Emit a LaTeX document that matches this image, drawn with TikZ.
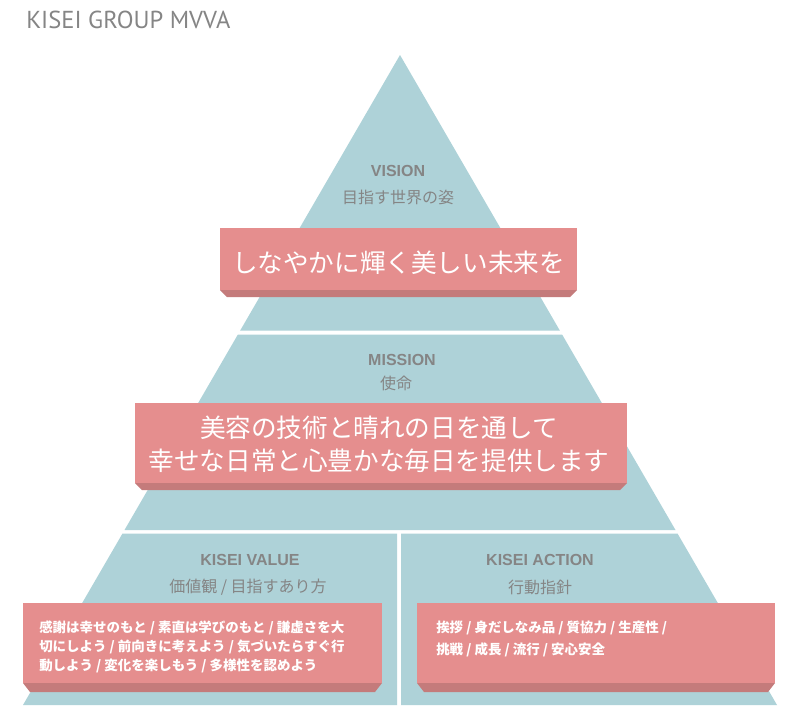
\documentclass[tikz,border=0pt]{standalone}
\usepackage{fontspec}
\setmainfont{Liberation Sans}
\newfontfamily\jp{Noto Sans CJK JP}
\newfontfamily\ttlfont{PT Sans}
\definecolor{tealbg}{HTML}{AED2D8}
\definecolor{boxred}{HTML}{E58E8E}
\definecolor{bevelred}{HTML}{C47B7B}
\definecolor{lblgray}{HTML}{858585}
\definecolor{ttlgray}{HTML}{858585}
\tikzset{
  tier/.style={fill=tealbg},
  redface/.style={fill=boxred},
  redbevel/.style={fill=bevelred},
  enlbl/.style={text=lblgray, font=\bfseries\fontsize{12}{14}\selectfont, inner sep=0pt},
  jplbl/.style={text=lblgray, font=\jp\fontsize{12}{14}\selectfont, inner sep=0pt},
  bigtxt/.style={text=white, font=\jp\fontsize{19.2}{25}\selectfont, inner sep=0pt, align=center},
  smalltxt/.style={text=white, font=\jp\bfseries\fontsize{10.1}{14.5}\selectfont, inner sep=0pt, align=left, anchor=west},
}
\begin{document}
\begin{tikzpicture}[x=0.75pt,y=-0.75pt]
\useasboundingbox (0,0) rectangle (795,715);
\fill[white] (0,0) rectangle (795,715);

% title
\node[anchor=west, inner sep=0pt, text=ttlgray, font=\ttlfont\fontsize{18.4}{22}\selectfont] (title) at (26,20) {KISEI GROUP MVVA};

% pyramid tiers
\fill[tier] (400,55) -- (559.8,330.5) -- (240.2,330.5) -- cycle;
\fill[tier] (237.9,334.5) -- (562.1,334.5) -- (675.5,530) -- (124.5,530) -- cycle;
\fill[tier] (122.5,533.5) -- (397,533.5) -- (397,705) -- (23,705) -- cycle;
\fill[tier] (401,533.5) -- (677.5,533.5) -- (777,705) -- (401,705) -- cycle;

% vision box
\fill[redface] (220,228) rectangle (577,290);
\fill[redbevel] (220,290) -- (577,290) -- (570,297) -- (227,297) -- cycle;
% mission box
\fill[redface] (135,403) rectangle (627,483);
\fill[redbevel] (135,483) -- (627,483) -- (620,490) -- (142,490) -- cycle;
% value box
\fill[redface] (23,603) rectangle (382,683);
\fill[redbevel] (23,683) -- (382,683) -- (375,692) -- (30,692) -- cycle;
% action box
\fill[redface] (417,603) rectangle (775,683);
\fill[redbevel] (417,683) -- (775,683) -- (768,692) -- (424,692) -- cycle;

% labels
\node[enlbl] (vision) at (398,171) {VISION};
\node[jplbl] (visionjp) at (398,197) {目指す世界の姿};
\node[enlbl] (mission) at (402,360) {MISSION};
\node[jplbl] (missionjp) at (396,383) {使命};
\node[enlbl] (value) at (250,560) {KISEI VALUE};
\node[jplbl] (valuejp) at (248,587) {価値観 / 目指すあり方};
\node[enlbl] (action) at (540,560) {KISEI ACTION};
\node[jplbl] (actionjp) at (540,587) {行動指針};

% box texts
\node[bigtxt] (visiontxt) at (398.5,263) {しなやかに輝く美しい未来を};
\node[bigtxt] (missiontxt) at (379,444.5) {美容の技術と晴れの日を通して\\幸せな日常と心豊かな毎日を提供します};
\node[smalltxt] (valuetxt) at (39,647) {感謝は幸せのもと / 素直は学びのもと / 謙虚さを大\\切にしよう / 前向きに考えよう / 気づいたらすぐ行\\動しよう / 変化を楽しもう / 多様性を認めよう};
\node[smalltxt, font=\jp\bfseries\fontsize{10.1}{16.5}\selectfont] (actiontxt) at (436,639) {挨拶 / 身だしなみ品 / 質協力 / 生産性 /\\挑戦 / 成長 / 流行 / 安心安全};
\end{tikzpicture}
\end{document}
